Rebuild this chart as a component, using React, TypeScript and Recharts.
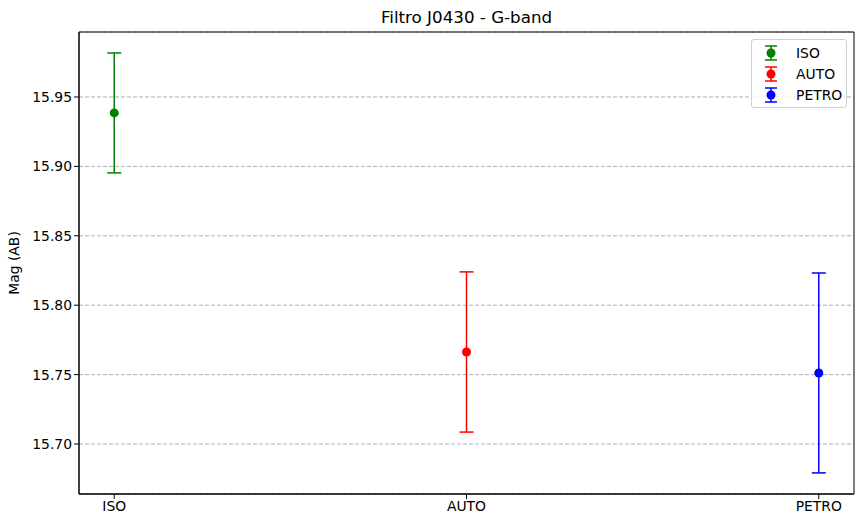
import React from 'react'
import {
  ScatterChart,
  Scatter,
  XAxis,
  YAxis,
  CartesianGrid,
  ErrorBar,
  ReferenceArea,
} from 'recharts'

const categories = ['ISO', 'AUTO', 'PETRO']
const magnitudes = [15.9385, 15.7663, 15.7512]
const errors = [0.0432, 0.0577, 0.072]
const colors = ['green', 'red', 'blue']
const yTicks = [15.7, 15.75, 15.8, 15.85, 15.9, 15.95]

const series = categories.map((name, i) => ({
  name,
  color: colors[i],
  data: [{ x: i, y: magnitudes[i], err: errors[i] }],
}))

const font = '"DejaVu Sans", sans-serif'

const Dot = (props: any) => <circle cx={props.cx} cy={props.cy} r={4.5} fill={props.fill} />

// matplotlib-like legend box, placed over the top-right of the plot
const LegendBox = () => (
  <div
    style={{
      position: 'absolute',
      top: 39,
      left: 751,
      width: 96,
      boxSizing: 'border-box',
      border: '1px solid #d0d0d0',
      borderRadius: 3,
      background: 'rgba(255,255,255,0.8)',
      padding: '2px 0 2px 10px',
      fontFamily: font,
      fontSize: 13.9,
    }}
  >
    {series.map((s) => (
      <div key={s.name} style={{ display: 'flex', alignItems: 'center', height: 21 }}>
        <svg width={18} height={20} style={{ marginRight: 16 }}>
          <line x1={9} x2={9} y1={3} y2={17} stroke={s.color} strokeWidth={1.5} />
          <line x1={3} x2={15} y1={3} y2={3} stroke={s.color} strokeWidth={1.5} />
          <line x1={3} x2={15} y1={17} y2={17} stroke={s.color} strokeWidth={1.5} />
          <circle cx={9} cy={10} r={4.5} fill={s.color} />
        </svg>
        <span style={{ color: '#000' }}>{s.name}</span>
      </div>
    ))}
  </div>
)

export default function App() {
  return (
    <div style={{ position: 'absolute', left: 0, top: 0, width: 863, height: 528, background: '#fff' }}>
      <div
        style={{
          position: 'absolute',
          top: 7,
          left: 79,
          width: 775,
          textAlign: 'center',
          fontFamily: font,
          fontSize: 16.7,
        }}
      >
        Filtro J0430 - G-band
      </div>
      <ScatterChart width={863} height={528} margin={{ top: 32, right: 9, bottom: 0, left: 0 }}>
        <CartesianGrid vertical={false} stroke="#b0b0b0" strokeDasharray="4 2" />
        <XAxis
          type="number"
          dataKey="x"
          domain={[-0.1, 2.1]}
          ticks={[0, 1, 2]}
          tickFormatter={(v: number) => categories[v]}
          allowDataOverflow
          height={34}
          tickSize={5}
          stroke="#000"
          tick={{ fill: '#000', fontFamily: font, fontSize: 13.9 }}
        />
        <YAxis
          type="number"
          dataKey="y"
          domain={[15.664, 15.9968]}
          ticks={yTicks}
          tickFormatter={(v: number) => v.toFixed(2)}
          allowDataOverflow
          width={79}
          tickSize={5}
          stroke="#000"
          tick={{ fill: '#000', fontFamily: font, fontSize: 13.9 }}
          label={{
            value: 'Mag (AB)',
            angle: -90,
            position: 'insideLeft',
            offset: 14,
            style: { textAnchor: 'middle', fill: '#000', fontFamily: font, fontSize: 13.9 },
          }}
        />
        <ReferenceArea
          x1={-0.1}
          x2={2.1}
          y1={15.664}
          y2={15.9968}
          fill="none"
          stroke="#000"
          strokeWidth={1}
          fillOpacity={0}
        />
        {series.map((s) => (
          <Scatter
            key={s.name}
            name={s.name}
            data={s.data}
            fill={s.color}
            shape={Dot}
            isAnimationActive={false}
          >
            <ErrorBar dataKey="err" direction="y" width={7} stroke={s.color} strokeWidth={1.5} />
          </Scatter>
        ))}
      </ScatterChart>
      <LegendBox />
    </div>
  )
}
